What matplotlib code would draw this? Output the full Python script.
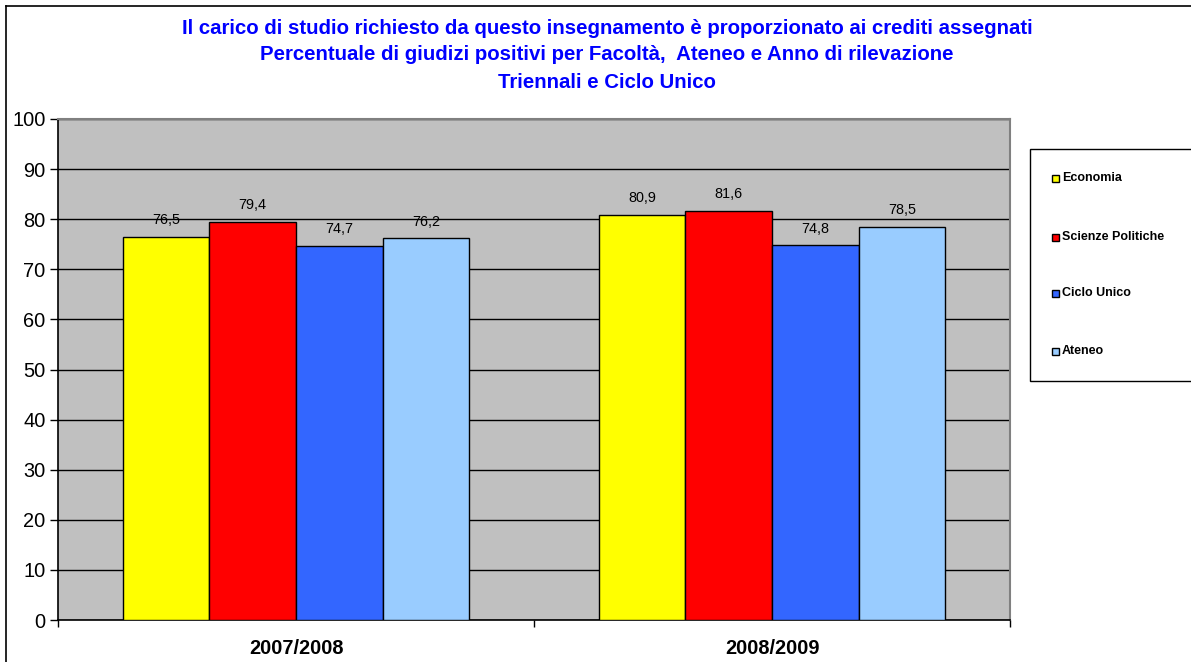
import matplotlib
matplotlib.use("Agg")
import matplotlib.pyplot as plt
from matplotlib.patches import Rectangle
from matplotlib.lines import Line2D
import numpy as np

plt.rcParams['font.family'] = ['Liberation Sans', 'DejaVu Sans']

years = ["2007/2008", "2008/2009"]
series = ["Economia", "Scienze Politiche", "Ciclo Unico", "Ateneo"]
economia = [76.5, 80.9]
scienze_politiche = [79.4, 81.6]
ciclo_unico = [74.7, 74.8]
ateneo = [76.2, 78.5]
values = [economia, scienze_politiche, ciclo_unico, ateneo]
colors = ["#FFFF00", "#FF0000", "#3366FF", "#99CCFF"]
yticks = [0, 10, 20, 30, 40, 50, 60, 70, 80, 90, 100]
title_lines = [
    "Il carico di studio richiesto da questo insegnamento è proporzionato ai crediti assegnati",
    "Percentuale di giudizi positivi per Facoltà,  Ateneo e Anno di rilevazione",
    "Triennali e Ciclo Unico",
]

W, H = 1191, 662
fig = plt.figure(figsize=(W / 100, H / 100), dpi=100)

# plot area in pixels
L, R, T, B = 58, 1010, 119, 620
ax = fig.add_axes([L / W, 1 - B / H, (R - L) / W, (B - T) / H])
ax.set_facecolor("#C0C0C0")

n = len(series)
bw = 1 / (n + 1.5)
x = np.arange(len(years))
for i, (vals, c) in enumerate(zip(values, colors)):
    pos = x + (i - (n - 1) / 2) * bw
    ax.bar(pos, vals, width=bw, color=c, edgecolor="black", linewidth=1.0, zorder=3, label=series[i])
    for p, v in zip(pos, vals):
        ax.annotate(f"{v:.1f}".replace(".", ","), (p, v), xytext=(0, 7), textcoords="offset points",
                    ha="center", va="bottom", fontsize=10.4, zorder=4)

ax.set_xlim(-0.5, len(years) - 0.5)
ax.set_ylim(0, 100)
ax.set_yticks(yticks)
ax.set_yticklabels([str(t) for t in yticks], fontsize=14.4)
ax.yaxis.grid(True, color="black", linewidth=1.0, zorder=1)
ax.tick_params(axis="y", length=6, width=1, pad=3)

ax.set_xticks(np.arange(-0.5, len(years), 1.0))
ax.set_xticklabels([])
ax.tick_params(axis="x", length=5, width=1)
ax.set_xticks(x, minor=True)
ax.set_xticklabels(years, minor=True, fontsize=14.4, fontweight="bold")
ax.tick_params(axis="x", which="minor", length=0, pad=14)

for s in ["top", "right"]:
    ax.spines[s].set_color("#808080")
    ax.spines[s].set_linewidth(1.5)
for s in ["left", "bottom"]:
    ax.spines[s].set_color("black")
    ax.spines[s].set_linewidth(1.2)

# title
ys = [28, 55, 83]
for line, yy in zip(title_lines, ys):
    fig.text(607 / W, 1 - yy / H, line, ha="center", va="center", fontsize=14.7,
             fontweight="bold", color="#0000FF")

# figure border (left & top visible)
fig.add_artist(Line2D([6 / W, 6 / W], [0, 1 - 6 / H], transform=fig.transFigure, color="black", linewidth=1.2))
fig.add_artist(Line2D([6 / W, 1], [1 - 6 / H, 1 - 6 / H], transform=fig.transFigure, color="black", linewidth=1.2))

# legend box
lx0, ly0, ly1 = 1030, 149, 381
fig.add_artist(Rectangle((lx0 / W, 1 - ly1 / H), (W + 5 - lx0) / W, (ly1 - ly0) / H,
                         transform=fig.transFigure, facecolor="white", edgecolor="black", linewidth=1.0))
ent_y = [178, 237, 293, 351]
for name, c, yy in zip(series, colors, ent_y):
    s = 7
    fig.add_artist(Rectangle(((1055 - s / 2) / W, 1 - (yy + s / 2) / H), s / W, s / H,
                             transform=fig.transFigure, facecolor=c, edgecolor="black", linewidth=1.0))
    fig.text(1062 / W, 1 - yy / H, name, ha="left", va="center", fontsize=9, fontweight="bold")

fig.savefig("out.png", dpi=100)
